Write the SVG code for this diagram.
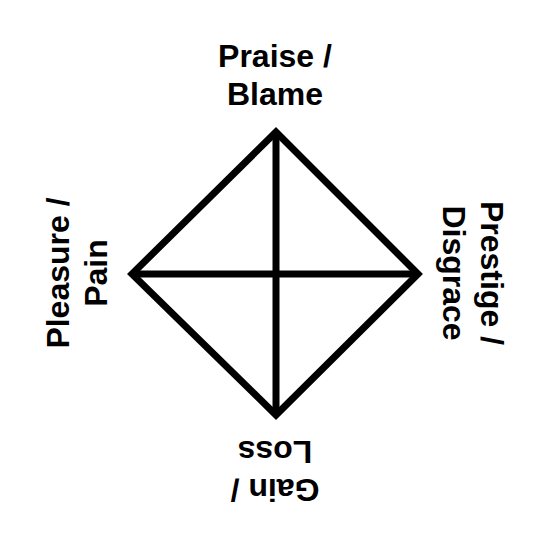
<svg xmlns="http://www.w3.org/2000/svg" width="550" height="550" viewBox="0 0 550 550">
<style>
.lbl{font-family:"Liberation Sans","Open Sans",sans-serif;font-weight:bold;font-size:32px;fill:#000;text-anchor:middle}
.ln{fill:none;stroke:#000;stroke-width:7;stroke-linejoin:miter;stroke-linecap:butt}
</style>
<rect width="550" height="550" fill="#fff"/>
<g id="connectors">
<path class="ln" d="M276,132 L418,274 L276,415 L132,274 Z"/>
<line class="ln" x1="276" y1="132" x2="276" y2="415"/>
<line class="ln" x1="132" y1="274" x2="418" y2="274"/>
</g>
<g id="top">
<text class="lbl" x="275" y="67">Praise /</text>
<text class="lbl" x="275" y="105">Blame</text>
</g>
<g id="right" transform="rotate(90 275 273)">
<text class="lbl" x="275" y="67">Prestige /</text>
<text class="lbl" x="275" y="105">Disgrace</text>
</g>
<g id="bottom" transform="rotate(180 275 273)">
<text class="lbl" x="275" y="67">Gain /</text>
<text class="lbl" x="275" y="105">Loss</text>
</g>
<g id="left" transform="rotate(-90 275 273)">
<text class="lbl" x="275" y="67">Pleasure /</text>
<text class="lbl" x="275" y="105">Pain</text>
</g>
</svg>
